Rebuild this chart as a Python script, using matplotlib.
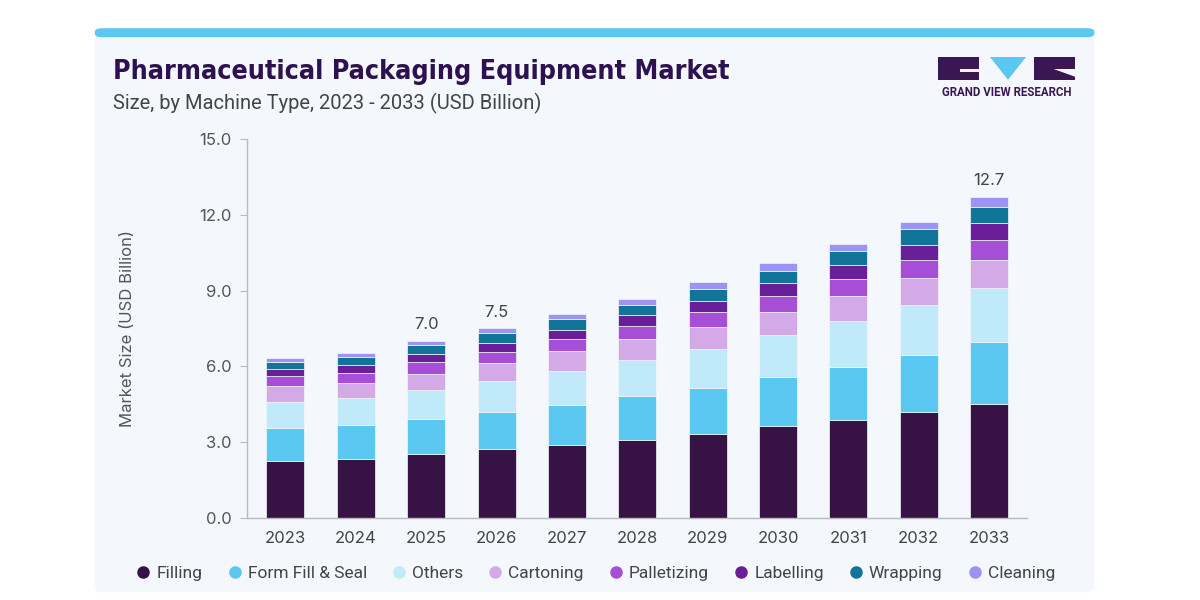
import matplotlib
matplotlib.use("Agg")
import matplotlib.pyplot as plt
from matplotlib.patches import FancyBboxPatch, Rectangle, Polygon
from matplotlib.lines import Line2D
from matplotlib import font_manager
import numpy as np

years = ["2023", "2024", "2025", "2026", "2027", "2028", "2029", "2030", "2031", "2032", "2033"]
segments = ["Filling", "Form Fill & Seal", "Others", "Cartoning", "Palletizing",
            "Labelling", "Wrapping", "Cleaning"]
filling     = [2.26, 2.34, 2.50, 2.70, 2.89, 3.08, 3.31, 3.61, 3.86, 4.17, 4.50]
form_fill   = [1.28, 1.32, 1.39, 1.49, 1.59, 1.72, 1.82, 1.95, 2.12, 2.27, 2.46]
others      = [1.05, 1.06, 1.17, 1.23, 1.34, 1.44, 1.57, 1.69, 1.80, 1.98, 2.13]
cartoning   = [0.62, 0.62, 0.65, 0.70, 0.77, 0.84, 0.86, 0.91, 0.99, 1.06, 1.13]
palletizing = [0.40, 0.40, 0.44, 0.46, 0.48, 0.52, 0.58, 0.63, 0.69, 0.73, 0.80]
labelling   = [0.29, 0.29, 0.33, 0.34, 0.37, 0.43, 0.46, 0.50, 0.55, 0.60, 0.65]
wrapping    = [0.27, 0.33, 0.37, 0.40, 0.42, 0.41, 0.48, 0.50, 0.57, 0.63, 0.66]
cleaning    = [0.15, 0.15, 0.15, 0.18, 0.23, 0.22, 0.25, 0.29, 0.27, 0.29, 0.37]
series = [filling, form_fill, others, cartoning, palletizing, labelling, wrapping, cleaning]
colors = ["#361245", "#5bc8f2", "#c0eaf9", "#d4a9e8", "#a64fd6", "#6a1f9a", "#117599", "#9b94f5"]
# totals shown above bars
labelled = {"2025": "7.0", "2026": "7.5", "2033": "12.7"}

names = sorted({f.name for f in font_manager.fontManager.ttflist})
BODY = "Inter" if "Inter" in names else "DejaVu Sans"
NARROW = "Roboto" if "Roboto" in names else "DejaVu Sans"
plt.rcParams["font.family"] = BODY

BG = "#f4f7fb"
fig = plt.figure(figsize=(12, 6), dpi=100, facecolor="white")

# card background + top accent strip
fig.patches.append(FancyBboxPatch((0.079, 0.013), 0.833, 0.93, boxstyle="round,pad=0,rounding_size=0.008",
                                  transform=fig.transFigure, facecolor=BG, edgecolor="none", zorder=-2))
fig.patches.append(FancyBboxPatch((0.079, 0.938), 0.833, 0.015, boxstyle="round,pad=0,rounding_size=0.006",
                                  transform=fig.transFigure, facecolor="#5bc8f0", edgecolor="none", zorder=-2))

ax = fig.add_axes([0.2056, 0.1375, 0.6504, 0.6303])
ax.set_zorder(2)
ax.set_facecolor(BG)

x = np.arange(len(years))
bottom = np.zeros(len(years))
for vals, col, name in zip(series, colors, segments):
    ax.bar(x, vals, 0.54, bottom=bottom, color=col, edgecolor=BG, linewidth=0.5, label=name, zorder=2)
    bottom += np.array(vals)

for i, yr in enumerate(years):
    if yr in labelled:
        ax.text(x[i], bottom[i] + 0.35, labelled[yr], ha="center", va="bottom",
                fontsize=12, color="#444444")

ax.set_xlim(-0.55, 10.54)
ax.set_ylim(0, 15)
ax.set_yticks([0, 3, 6, 9, 12, 15])
ax.set_yticklabels([f"{v:.1f}" for v in [0, 3, 6, 9, 12, 15]])
ax.set_xticks(x)
ax.set_xticklabels(years)
ax.tick_params(axis="y", length=5, color="#bbbbbb", labelsize=12, labelcolor="#555555", pad=6)
ax.tick_params(axis="x", length=0, labelsize=12, labelcolor="#444444", pad=10)
for s in ["top", "right"]:
    ax.spines[s].set_visible(False)
for s in ["left", "bottom"]:
    ax.spines[s].set_color("#bbbbbb")
    ax.spines[s].set_linewidth(1)
ax.set_ylabel("Market Size (USD Billion)", fontsize=12, color="#555555", labelpad=46)

# titles
fig.text(0.094, 0.88, "Pharmaceutical Packaging Equipment Market", fontfamily="DejaVu Sans",
         fontstretch="condensed", fontweight="bold", fontsize=19.3, color="#2d1150",
         va="center", ha="left")
fig.text(0.094, 0.828, "Size, by Machine Type, 2023 - 2033 (USD Billion)", fontfamily=NARROW,
         fontsize=14.5, color="#444444", va="center", ha="left")

# logo
logo = "#3a1753"
fig.patches.append(Rectangle((0.782, 0.867), 0.034, 0.038, transform=fig.transFigure, facecolor=logo, zorder=3))
fig.patches.append(Rectangle((0.800, 0.880), 0.016, 0.005, transform=fig.transFigure, facecolor=BG, zorder=4))
fig.patches.append(Polygon([(0.825, 0.905), (0.855, 0.905), (0.840, 0.867)], closed=True,
                           transform=fig.transFigure, facecolor="#5bc8f2", zorder=3))
fig.patches.append(Rectangle((0.862, 0.867), 0.034, 0.038, transform=fig.transFigure, facecolor=logo, zorder=3))
fig.patches.append(Polygon([(0.878, 0.885), (0.896, 0.872), (0.896, 0.885)], closed=True,
                           transform=fig.transFigure, facecolor=BG, zorder=4))
fig.text(0.839, 0.845, "GRAND VIEW RESEARCH", fontfamily=NARROW, fontweight="bold",
         fontsize=8.3, color=logo, ha="center", va="center")

handles = [Line2D([], [], marker="o", linestyle="none", markersize=8, markerfacecolor=c,
                  markeredgecolor=c) for c in colors]
fig.legend(handles, segments, loc="center", bbox_to_anchor=(0.494, 0.045), ncol=8, frameon=False,
           prop={"family": NARROW, "size": 12.5}, handletextpad=0.0, columnspacing=1.1,
           handlelength=1.5, labelcolor="#444444")

fig.savefig("out.png", dpi=100, facecolor="white")
